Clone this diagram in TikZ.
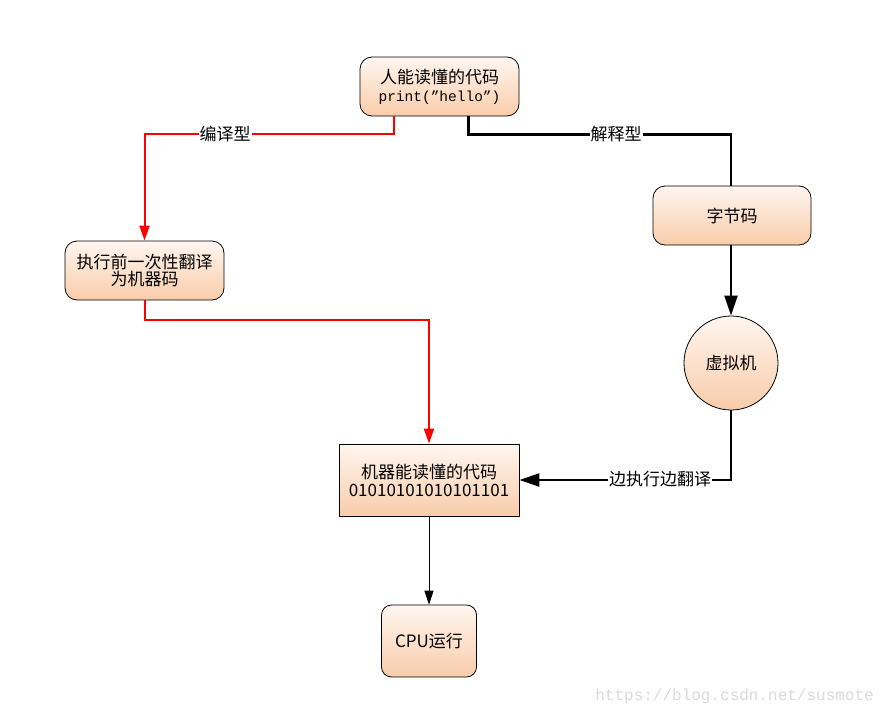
\documentclass[tikz,border=0pt]{standalone}
\usepackage{fontspec}
\setmainfont{Noto Sans CJK SC}
\newfontfamily\monofont{Liberation Mono}
\usetikzlibrary{arrows.meta,calc,shapes.geometric}
\definecolor{peachT}{HTML}{FFF6F0}
\definecolor{peachB}{HTML}{F9CCA9}
\definecolor{wm}{HTML}{DADADA}
\tikzset{
  x=1pt, y=-1pt,
  txt/.style={font=\fontsize{17}{20}\selectfont},
  box/.style={draw=black, line width=0.8pt, top color=peachT, bottom color=peachB,
    align=center, inner sep=0pt, txt},
  rbox/.style={box, rounded corners=12pt},
  lab/.style={fill=white, inner sep=1pt, txt},
  redline/.style={draw=red, line width=2pt},
  redarrow/.style={redline, -{Triangle[length=15pt,width=10pt]}},
  blkline/.style={draw=black, line width=2.2pt},
  blkarrow/.style={blkline, -{Triangle[length=20pt,width=13pt]}},
  thinarrow/.style={draw=black, line width=1pt, -{Triangle[length=14pt,width=9pt]}}
}
\begin{document}
\begin{tikzpicture}
\useasboundingbox[fill=white] (0,0) rectangle (888,717);

\node[rbox, minimum width=159pt, minimum height=59pt] (src) at (439.5,86.5)
  {人能读懂的代码\\[-2pt]{\monofont\fontsize{14.5}{17}\selectfont print(”hello”)}};
\node[rbox, minimum width=159pt, minimum height=59pt] (pre) at (144.5,270.5)
  {执行前一次性翻译\\[-3pt]为机器码};
\node[rbox, minimum width=158pt, minimum height=59pt] (byte) at (732,215.5) {字节码};
\node[box, circle, minimum size=94pt] (vm) at (731,363) {虚拟机};
\node[box, minimum width=180pt, minimum height=72pt] (mc) at (429,480)
  {机器能读懂的代码\\[-2pt]01010101010101101};
\node[rbox, rounded corners=10pt, minimum width=95pt, minimum height=72pt] (cpu) at (429,641) {CPU运行};

% compiled path (red)
\coordinate (r1) at ($(src.south)+(-45.5,0)$);
\draw[redarrow] (r1) -- ++(0,18) -| (pre.north);
\node[lab] (l1) at (225,134) {编译型};
\draw[redarrow] (pre.south) -- ++(0,20) -| (mc.north);

% interpreted path (black)
\coordinate (b1) at ($(src.south)+(29,0)$);
\draw[blkline] (b1) -- ++(0,18) -| ([xshift=-1pt]byte.north);
\node[lab] (l2) at (616,134) {解释型};
\draw[blkarrow] ([xshift=-1pt]byte.south) -- (vm.north);
\draw[blkarrow] (vm.south) |- (mc.east);
\node[lab] (l3) at (660,479) {边执行边翻译};

\draw[thinarrow] (mc.south) -- (cpu.north);

\node[anchor=east, text=wm, inner sep=0pt, font=\monofont\fontsize{16}{19}\selectfont] (wmk) at (874,696)
  {https://blog.csdn.net/susmote};
\end{tikzpicture}
\end{document}
